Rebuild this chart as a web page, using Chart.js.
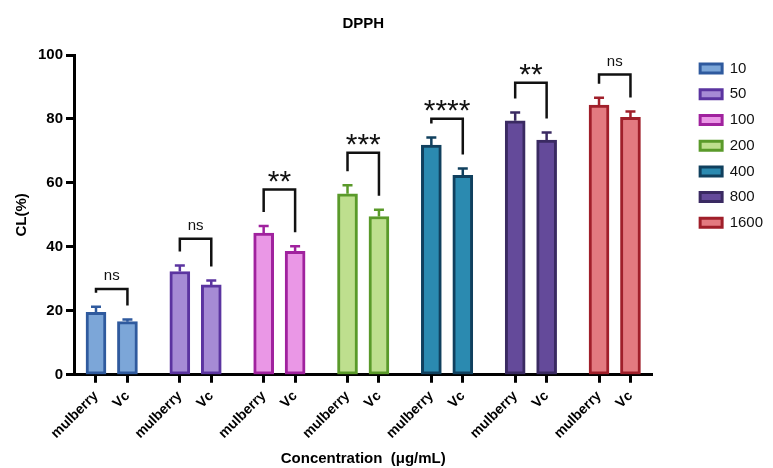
<!DOCTYPE html>
<html>
<head>
<meta charset="utf-8">
<title>DPPH</title>
<script src="https://cdn.jsdelivr.net/npm/chart.js@4.4.0/dist/chart.umd.min.js"></script>
<style>
  html, body { margin: 0; padding: 0; background: #fff; }
  #wrap { width: 773px; height: 468px; }
</style>
</head>
<body>
<div id="wrap"><canvas id="dpphChart"></canvas></div>
<script>
// values (CL %, mean and upper error)
const concentrations = ['10', '50', '100', '200', '400', '800', '1600'];
const sampleNames = ['mulberry', 'Vc'];
const mulberryMean = [19.5, 32.3, 44.3, 56.6, 71.8, 79.4, 84.3];
const mulberrySd = [1.8, 1.9, 2.2, 2.7, 2.4, 2.6, 2.3];
const vcMean = [16.6, 28.1, 38.6, 49.5, 62.4, 73.4, 80.5];
const vcSd = [0.7, 1.4, 1.6, 2.1, 2.1, 2.4, 1.8];
const sigLabels = ['ns', 'ns', '**', '***', '****', '**', 'ns'];
const sigLevel = [26.8, 42.5, 57.9, 69.4, 80.1, 91.3, 93.9];
const yTicks = [0, 20, 40, 60, 80, 100];

const fillColors = ['#7ca6d8', '#a68bd5', '#ea97e6', '#bedf8e', '#2b8ab0', '#644a9a', '#e37a80'];
const lineColors = ['#2f5a9e', '#5b34a0', '#a0229e', '#5a9a2a', '#10405e', '#3a2a62', '#a01f2a'];

const PAIR_STEP = 0.375;   // mulberry -> Vc distance, in group units
const LEGEND_GAP = 37;     // empty space between plot and legend
const FONT = "'Liberation Sans', Arial, sans-serif";

const datasets = concentrations.map((c, g) => ({
    label: c,
    data: [
        { x: g, y: mulberryMean[g] },
        { x: g + PAIR_STEP, y: vcMean[g] }
    ],
    backgroundColor: fillColors[g],
    borderColor: lineColors[g],
    borderWidth: 3,
    borderSkipped: false,
    barThickness: 20,
    grouped: false
}));

const tickPositions = [];
concentrations.forEach((c, g) => tickPositions.push(g, g + PAIR_STEP));

/**
 * Pushes the legend away from the plot so the x axis stops short of it.
 */
const legendGapPlugin = {
    id: 'legendGap',
    afterInit(chart) {
        const legend = chart.legend;
        const fit = legend.fit;
        legend.fit = function () {
            fit.call(this);
            this.width += LEGEND_GAP;
        };
    },
    afterLayout(chart) {
        chart.legend.left += LEGEND_GAP;
    }
};

/**
 * Draws the upper error bars and the significance brackets.
 */
const annotatePlugin = {
    id: 'errorBarsAndBrackets',
    afterDatasetsDraw(chart) {
        const { ctx } = chart;
        const xs = chart.scales.x;
        const ys = chart.scales.y;
        ctx.save();
        concentrations.forEach((c, g) => {
            const bars = [
                [g, mulberryMean[g], mulberrySd[g]],
                [g + PAIR_STEP, vcMean[g], vcSd[g]]
            ];
            ctx.strokeStyle = lineColors[g];
            ctx.lineWidth = 2.5;
            const tops = bars.map(([pos, mean, sd]) => {
                const px = xs.getPixelForValue(pos);
                const top = ys.getPixelForValue(mean + sd);
                ctx.beginPath();
                ctx.moveTo(px, ys.getPixelForValue(mean));
                ctx.lineTo(px, top);
                ctx.moveTo(px - 5, top);
                ctx.lineTo(px + 5, top);
                ctx.stroke();
                return top;
            });

            // bracket
            const x1 = xs.getPixelForValue(g);
            const x2 = xs.getPixelForValue(g + PAIR_STEP);
            const yb = ys.getPixelForValue(sigLevel[g]);
            ctx.strokeStyle = '#111';
            ctx.lineWidth = 2.5;
            ctx.beginPath();
            ctx.moveTo(x1, tops[0] - 14);
            ctx.lineTo(x1, yb);
            ctx.lineTo(x2, yb);
            ctx.lineTo(x2, tops[1] - 14);
            ctx.stroke();

            const label = sigLabels[g];
            const cx = (x1 + x2) / 2;
            ctx.fillStyle = '#111';
            ctx.textAlign = 'center';
            ctx.textBaseline = 'alphabetic';
            if (label === 'ns') {
                ctx.font = '15px ' + FONT;
                ctx.fillText(label, cx, yb - 9);
            } else {
                ctx.font = '30px ' + FONT;
                ctx.fillText(label, cx, yb + 1.5);
            }
        });
        ctx.restore();
    }
};

function renderDpphChart() {
    const ctx = document.getElementById('dpphChart');
    if (!ctx) return;
    new Chart(ctx, {
        type: 'bar',
        data: { datasets },
        options: {
            responsive: true,
            maintainAspectRatio: false,
            animation: false,
            layout: { padding: { left: 5, top: 10, right: 0, bottom: 0 } },
            plugins: {
                title: {
                    display: true,
                    text: 'DPPH',
                    fullSize: false,
                    color: '#000',
                    font: { family: FONT, size: 15, weight: 'bold' },
                    padding: { top: 5, bottom: 22 }
                },
                legend: {
                    position: 'right',
                    align: 'start',
                    title: { display: true, text: '', padding: { top: 26, bottom: 0 } },
                    labels: {
                        color: '#111',
                        boxWidth: 22,
                        boxHeight: 9,
                        padding: 10.7,
                        font: { family: FONT, size: 15 }
                    }
                },
                tooltip: { enabled: false }
            },
            scales: {
                x: {
                    type: 'linear',
                    offset: false,
                    min: -0.262,
                    max: concentrations.length - 1 + PAIR_STEP + 0.262,
                    afterBuildTicks: (scale) => {
                        scale.ticks = tickPositions.map(v => ({ value: v }));
                    },
                    grid: { offset: false, drawOnChartArea: false, drawTicks: true, tickLength: 8, tickWidth: 3, tickColor: '#000' },
                    border: { display: true, width: 3, color: '#000' },
                    ticks: {
                        autoSkip: false,
                        minRotation: 45,
                        maxRotation: 45,
                        padding: 5,
                        color: '#000',
                        font: { family: FONT, size: 14, weight: 'bold' },
                        callback: (value, index) => sampleNames[index % 2]
                    },
                    title: {
                        display: true,
                        text: 'Concentration  (μg/mL)',
                        color: '#000',
                        font: { family: FONT, size: 15, weight: 'bold' },
                        padding: { top: 3, bottom: 0 }
                    }
                },
                y: {
                    min: 0,
                    max: 100,
                    afterBuildTicks: (scale) => {
                        scale.ticks = yTicks.map(v => ({ value: v }));
                    },
                    grid: { drawOnChartArea: false, drawTicks: true, tickLength: 8, tickWidth: 3, tickColor: '#000' },
                    border: { display: true, width: 3, color: '#000' },
                    ticks: {
                        padding: 3,
                        color: '#000',
                        font: { family: FONT, size: 15, weight: 'bold' }
                    },
                    title: {
                        display: true,
                        text: 'CL(%)',
                        color: '#000',
                        font: { family: FONT, size: 15, weight: 'bold' },
                        padding: { top: 8, bottom: 4 }
                    }
                }
            }
        },
        plugins: [legendGapPlugin, annotatePlugin]
    });
}

document.addEventListener('DOMContentLoaded', renderDpphChart);
</script>
</body>
</html>
